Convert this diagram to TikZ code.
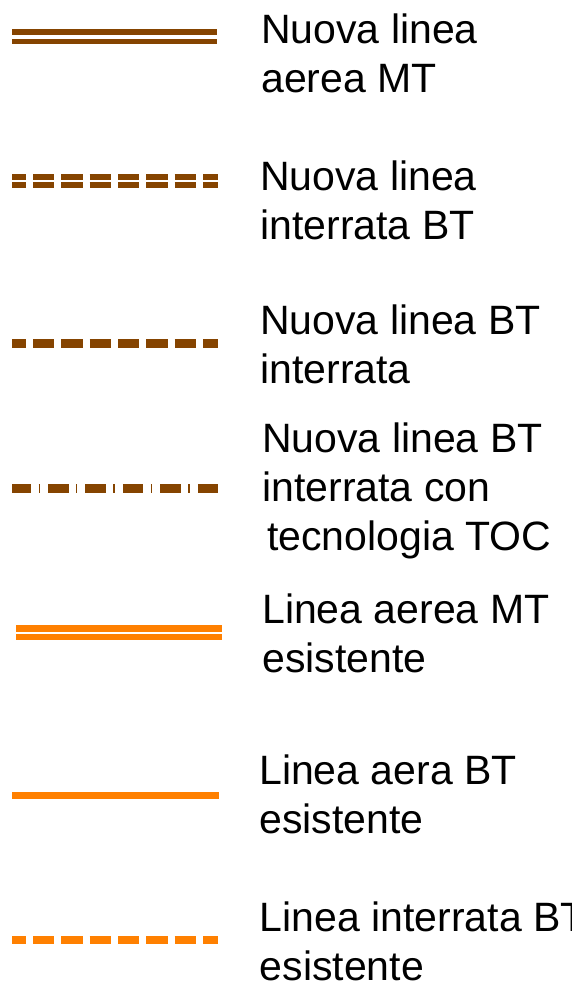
\documentclass[tikz,border=0pt]{standalone}
\usepackage{fontspec}
\setmainfont{Liberation Sans}
\definecolor{marrone}{RGB}{133,68,0}
\definecolor{arancio}{RGB}{255,128,0}
\tikzset{
  voce/.style={anchor=base west,align=left,inner sep=0pt,font=\fontsize{30.75}{36.75}\selectfont},
  tratteggio/.style={dash pattern=on 16pt off 5.25pt,dash phase=5.5pt},
  puntolinea/.style={dash pattern=on 15.4pt off 5.6pt on 1.1pt off 6pt,dash phase=1.1pt}
}
\begin{document}
\begin{tikzpicture}[x=0.75pt,y=-0.75pt]
    \useasboundingbox (0,0) rectangle (571,988);
    % linee nuove
    \draw[marrone,line width=4.2pt] (12,32) -- (217,32);
    \draw[marrone,line width=4.2pt] (12,41.5) -- (217,41.5);
    \draw[marrone,line width=4.3pt,tratteggio] (12,177) -- (218,177);
    \draw[marrone,line width=4.3pt,tratteggio] (12,185.3) -- (218,185.3);
    \draw[marrone,line width=6.75pt,tratteggio] (12,343.5) -- (218,343.5);
    \draw[marrone,line width=6.75pt,puntolinea] (12,488.5) -- (218,488.5);
    % linee esistenti
    \draw[arancio,line width=4.9pt] (16,628.3) -- (222,628.3);
    \draw[arancio,line width=4.9pt] (16,637) -- (222,637);
    \draw[arancio,line width=5.8pt] (12,795.5) -- (218.5,795.5);
    \draw[arancio,line width=6.4pt,tratteggio] (12,940) -- (218,940);
    % testi (ancorati alla base dell'ultima riga)
    \node[voce] (nuovaMT) at (261,93) {Nuova linea\\aerea MT};
    \node[voce] (nuovaBTdoppia) at (260,239) {Nuova linea\\interrata BT};
    \node[voce] (nuovaBT) at (260,383) {Nuova linea BT\\interrata};
    \node[voce] (nuovaTOC) at (262,550) {Nuova linea BT\\interrata con\\\hspace*{3.75pt}tecnologia TOC};
    \node[voce] (esistMT) at (262,672) {Linea aerea MT\\esistente};
    \node[voce] (esistBTaerea) at (259,833) {Linea aera BT\\esistente};
    \node[voce] (esistBTinterrata) at (259.6,980) {Linea interrata BT\\esistente};
\end{tikzpicture}
\end{document}
